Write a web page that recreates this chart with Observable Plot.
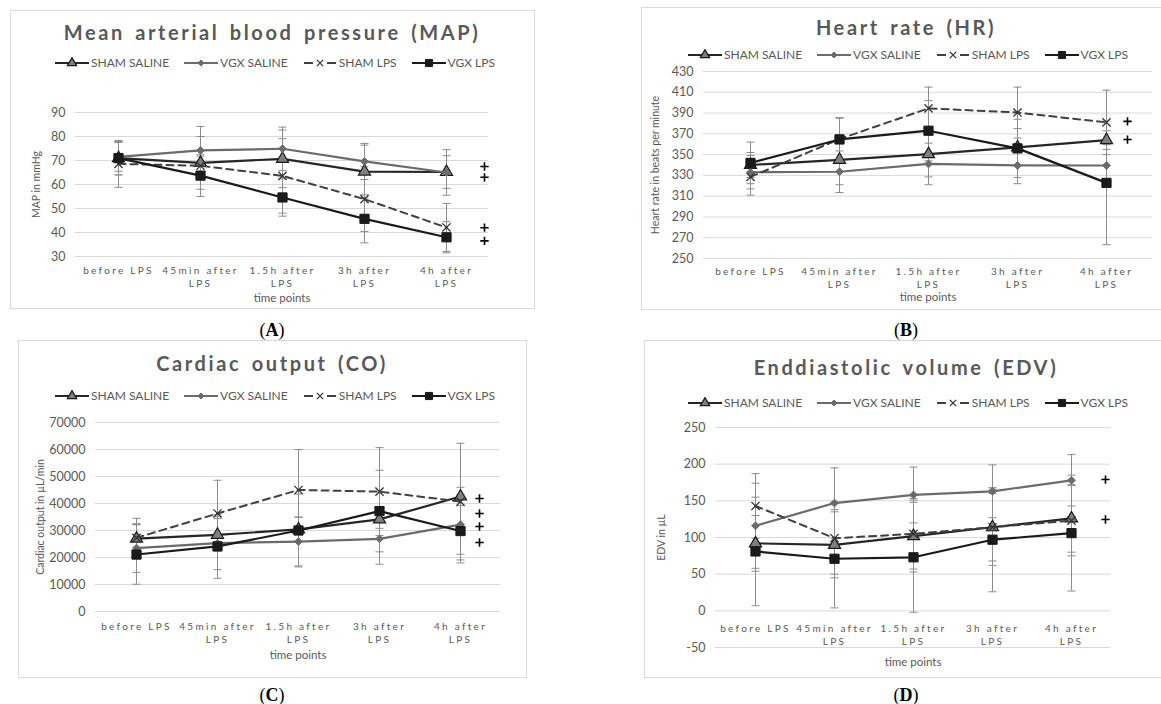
<!DOCTYPE html>
<html><head><meta charset="utf-8">
<script src="https://cdn.jsdelivr.net/npm/d3@7"></script>
<script src="https://cdn.jsdelivr.net/npm/@observablehq/plot@0.6"></script>
<style>
html,body{margin:0;padding:0;background:#fff;}
#page{position:relative;width:1161px;height:704px;overflow:hidden;font-family:Lato,"Open Sans",sans-serif;}
.frame{position:absolute;border:1px solid #d9d9d9;box-sizing:border-box;}
.title{position:absolute;transform:translate(-50%,-50%);font-weight:bold;color:#595959;font-size:20px;letter-spacing:2.6px;word-spacing:3px;white-space:nowrap;line-height:1;}
.legend{position:absolute;transform:translate(-50%,-50%);display:flex;align-items:center;gap:15px;white-space:nowrap;color:#595959;font-size:12px;line-height:1;}
.legend .item{display:flex;align-items:center;gap:2px;}
.caption{position:absolute;transform:translate(-50%,-50%);font-family:"Liberation Serif","DejaVu Serif",serif;font-size:18px;color:#000;white-space:nowrap;line-height:1;}
.plot{position:absolute;}
</style></head><body><div id="page"></div>
<script>
// ---------- data ----------
const categories = ["before LPS", "45min after LPS", "1.5h after LPS", "3h after LPS", "4h after LPS"];
const categoryLabels = ["before LPS", "45min after\nLPS", "1.5h after\nLPS", "3h after\nLPS", "4h after\nLPS"];
const seriesNames = ["SHAM SALINE", "VGX SALINE", "SHAM LPS", "VGX LPS"];

// (A) MAP, rows follow seriesNames
const mapMean = [
  [71, 69, 70.7, 65.4, 65.2],
  [71.5, 74.2, 74.9, 69.6, 65],
  [68.6, 67.8, 63.6, 53.9, 42.1],
  [71, 63.7, 54.6, 45.7, 38]
];
const mapSd = [
  [7, 11, 12, 11, 6.8],
  [6, 10, 9, 7.5, 9.5],
  [9.8, 4, 15.5, 13.5, 10],
  [7, 8.7, 7.8, 10, 6.5]
];
const mapTicks = [30, 40, 50, 60, 70, 80, 90];
const mapPlus = [67.5, 63, 42, 36.5];

// (B) HR
const hrMean = [
  [340, 345, 350.5, 357, 364],
  [333, 333.5, 341, 339.6, 339.5],
  [328.5, 365, 394.5, 390.5, 381],
  [342, 364.6, 373, 356, 322.8]
];
const hrSd = [
  [12, 24, 22, 18, 9],
  [16, 20, 20, 17.6, 20],
  [17.5, 20, 20.5, 24.5, 31],
  [20, 21, 29, 28, 59.5]
];
const hrTicks = [250, 270, 290, 310, 330, 350, 370, 390, 410, 430];
const hrPlus = [382, 364.5];

// (C) CO
const coMean = [
  [27000, 28400, 30400, 34100, 42600],
  [23500, 25300, 25900, 26900, 32200],
  [27300, 36300, 45000, 44400, 40700],
  [21100, 24100, 30000, 37200, 29800]
];
const coSd = [
  [7500, 6000, 4600, 3300, 3400],
  [9000, 9800, 9000, 9400, 11000],
  [5000, 12300, 15000, 16300, 21600],
  [11000, 11800, 13500, 15100, 11800]
];
const coTicks = [0, 10000, 20000, 30000, 40000, 50000, 60000, 70000];
const coPlus = [41850, 36300, 31480, 25560];

// (D) EDV
const edvMean = [
  [92, 90, 102, 114, 126],
  [116, 147, 158, 163, 178],
  [143, 99, 105, 114, 123],
  [81, 71, 73, 97, 106]
];
const edvSd = [
  [38, 45, 49, 46, 46],
  [58, 48, 38, 36, 35],
  [44, 49, 48, 52, 48],
  [74, 67, 75, 71, 79]
];
const edvTicks = [-50, 0, 50, 100, 150, 200, 250];
const edvPlus = [179, 124.5];

// ---------- styles ----------
const seriesStyles = [
  {line: "#262626", width: 2.2, dash: null, symbol: "triangle", r: 4.5, fill: "#7f7f7f", stroke: "#1a1a1a", sw: 1.2},
  {line: "#6b6b6b", width: 2.2, dash: null, symbol: "diamond2", r: 3.5, fill: "#6b6b6b", stroke: "#6b6b6b", sw: 1},
  {line: "#404040", width: 2, dash: "7,5", symbol: "times", r: 3.8, fill: "none", stroke: "#333333", sw: 1.3},
  {line: "#1a1a1a", width: 2.2, dash: null, symbol: "square", r: 5.2, fill: "#1a1a1a", stroke: "#1a1a1a", sw: 1}
];
const textColor = "#595959";
const capSymbol = {draw(context, size) { const r = Math.sqrt(size / Math.PI); context.moveTo(-r, 0); context.lineTo(r, 0); }};

const panels = [
  {key: "A", title: "Mean arterial blood pressure (MAP)", yLabel: "MAP in mmHg", mean: mapMean, sd: mapSd,
   yDomain: [30, 90], yTicks: mapTicks, plus: mapPlus, plusDx: 38, xBase: 30,
   frame: [10, 10, 525, 299], titleXY: [272, 32], legendXY: [275, 63], svg: [10, 92, 525, 215],
   plot: [75, 112, 488, 256], yLabelX: 36, labelDy: 8, timeDy: 42, captionXY: [272, 330]},
  {key: "B", title: "Heart rate (HR)", yLabel: "Heart rate in beats per minute", mean: hrMean, sd: hrSd,
   yDomain: [250, 430], yTicks: hrTicks, plus: hrPlus, plusDx: 21, xBase: 250,
   frame: [641, 7, 540, 303], titleXY: [906, 27], legendXY: [908, 55], svg: [641, 63, 520, 245],
   plot: [703, 71, 1152, 258], yLabelX: 655, labelDy: 7, timeDy: 39, captionXY: [906, 330]},
  {key: "C", title: "Cardiac output (CO)", yLabel: "Cardiac output in \u00b5L/min", mean: coMean, sd: coSd,
   yDomain: [0, 70000], yTicks: coTicks, plus: coPlus, plusDx: 19, xBase: 0,
   frame: [18, 340, 509, 338], titleXY: [272, 363], legendXY: [275, 396], svg: [18, 405, 509, 271],
   plot: [95, 422, 500, 611], yLabelX: 40, labelDy: 9, timeDy: 44, captionXY: [272, 695]},
  {key: "D", title: "Enddiastolic volume (EDV)", yLabel: "EDV in \u00b5L", mean: edvMean, sd: edvSd,
   yDomain: [-50, 250], yTicks: edvTicks, plus: edvPlus, plusDx: 34, xBase: 0,
   frame: [644, 340, 537, 338], titleXY: [906, 367], legendXY: [908, 403], svg: [644, 412, 517, 264],
   plot: [715, 427, 1110, 647], yLabelX: 661, labelDy: 12, timeDy: 15, captionXY: [906, 695]}
];

const page = document.getElementById("page");
const symbolTypes = {triangle: d3.symbolTriangle, diamond2: d3.symbolDiamond2, times: d3.symbolTimes, square: d3.symbolSquare};

function el(cls, x, y, html) {
  const d = document.createElement("div");
  d.className = cls;
  d.style.left = x + "px";
  d.style.top = y + "px";
  d.innerHTML = html;
  page.appendChild(d);
  return d;
}

function legendSample(si) {
  const st = seriesStyles[si];
  const w = 34, cy = 6;
  let s = `<svg width="${w}" height="12" viewBox="0 0 ${w} 12">`;
  if (st.dash) {
    s += `<line x1="1" x2="10" y1="${cy}" y2="${cy}" stroke="${st.line}" stroke-width="2"/>`;
    s += `<line x1="24" x2="33" y1="${cy}" y2="${cy}" stroke="${st.line}" stroke-width="2"/>`;
  } else {
    s += `<line x1="0" x2="${w}" y1="${cy}" y2="${cy}" stroke="${st.line}" stroke-width="2"/>`;
  }
  const size = Math.PI * st.r * st.r * 0.6;
  const path = d3.symbol(symbolTypes[st.symbol], size)();
  s += `<path transform="translate(${w / 2},${cy})" d="${path}" fill="${st.fill}" stroke="${st.stroke}" stroke-width="${st.sw}"/>`;
  return s + "</svg>";
}

const labelSet = new Set(categoryLabels.map(l => l.replace("\n", "")));

panels.forEach(p => {
  const f = el("frame", p.frame[0], p.frame[1], "");
  f.style.width = p.frame[2] + "px";
  f.style.height = p.frame[3] + "px";

  const rows = [];
  seriesNames.forEach((s, si) => categories.forEach((c, ci) => {
    const v = p.mean[si][ci], e = p.sd[si][ci];
    rows.push({series: s, si, cat: c, v, lo: v - e, hi: v + e});
  }));

  const [sl, stp, sw, sh] = p.svg;
  const [pl, pt, pr, pb] = p.plot;
  const marks = [
    Plot.ruleY(p.yTicks, {stroke: "#d9d9d9", strokeWidth: 1}),
    Plot.axisY({ticks: p.yTicks, tickSize: 0, tickPadding: 10, fontSize: 12.5, color: textColor, label: null, tickFormat: d => String(d)}),
    Plot.text(categories, {x: d => d, y: () => p.xBase, text: (d, i) => categoryLabels[i], lineAnchor: "top", dy: p.labelDy, fontSize: 10, lineHeight: 1.3, fill: textColor}),
    Plot.text([p.yLabel], {frameAnchor: "left", dx: p.yLabelX - pl, rotate: -90, textAnchor: "middle", lineAnchor: "middle", fontSize: 10.5, fill: textColor}),
    Plot.text(["time points"], {frameAnchor: "bottom", dy: p.timeDy, textAnchor: "middle", lineAnchor: "middle", fontSize: 11.5, fill: textColor}),
    Plot.ruleX(rows, {x: "cat", y1: "lo", y2: "hi", stroke: "#8c8c8c", strokeWidth: 1}),
    Plot.dot(rows, {x: "cat", y: "lo", symbol: capSymbol, r: 4, fill: "none", stroke: "#8c8c8c", strokeWidth: 1}),
    Plot.dot(rows, {x: "cat", y: "hi", symbol: capSymbol, r: 4, fill: "none", stroke: "#8c8c8c", strokeWidth: 1})
  ];
  seriesStyles.forEach((st, si) => {
    const d = rows.filter(r => r.si === si);
    marks.push(Plot.line(d, {x: "cat", y: "v", stroke: st.line, strokeWidth: st.width, strokeDasharray: st.dash || undefined}));
    marks.push(Plot.dot(d, {x: "cat", y: "v", symbol: st.symbol, r: st.r, fill: st.fill, stroke: st.stroke, strokeWidth: st.sw}));
  });
  // significance markers "+"
  marks.push(Plot.dot(p.plus, {x: () => categories[4], y: d => d, symbol: "plus", r: 2.8, dx: p.plusDx, stroke: "#000", strokeWidth: 1.6}));

  const svg = Plot.plot({
    width: sw, height: sh,
    marginLeft: pl - sl, marginRight: sl + sw - pr, marginTop: pt - stp, marginBottom: stp + sh - pb,
    x: {type: "point", domain: categories, padding: 0.5, axis: null},
    y: {domain: p.yDomain},
    style: {fontFamily: "Lato, 'Open Sans', sans-serif", background: "transparent", overflow: "visible"},
    marks
  });
  d3.select(svg).selectAll("text").each(function () {
    if (labelSet.has(this.textContent)) this.setAttribute("letter-spacing", "2.3px");
  });
  svg.classList.add("plot");
  svg.style.position = "absolute";
  svg.style.left = sl + "px";
  svg.style.top = stp + "px";
  svg.style.maxWidth = "none";
  page.appendChild(svg);

  el("title", p.titleXY[0], p.titleXY[1], p.title);
  const items = seriesNames.map((s, si) => `<span class="item">${legendSample(si)}<span>${s}</span></span>`).join("");
  el("legend", p.legendXY[0], p.legendXY[1], items);
  el("caption", p.captionXY[0], p.captionXY[1], `(<b>${p.key}</b>)`);
});
</script>
</body></html>
